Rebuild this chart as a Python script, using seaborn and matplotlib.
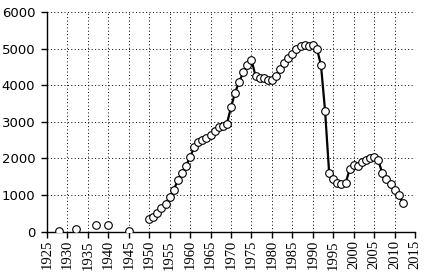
import matplotlib
matplotlib.use("Agg")
import matplotlib.pyplot as plt
import seaborn as sns
import pandas as pd

# Early isolated observations
early_years = [1928, 1932, 1937, 1940, 1945]
early_values = [30, 70, 180, 170, 20]

# Continuous yearly series
years = list(range(1950, 2013))
values = [340, 400, 500, 650, 750, 950, 1150, 1400, 1600, 1800,
          2050, 2300, 2450, 2500, 2550, 2650, 2750, 2850, 2900, 2950,
          3400, 3800, 4100, 4350, 4550, 4700, 4250, 4200, 4200, 4150,
          4150, 4250, 4450, 4600, 4750, 4850, 5000, 5080, 5100, 5080,
          5100, 5000, 4550, 3300, 1600, 1450, 1320, 1300, 1320, 1700,
          1820, 1800, 1900, 1950, 2000, 2050, 1950, 1600, 1450, 1300,
          1150, 1000, 780]

x_ticks = list(range(1925, 2016, 5))
y_ticks = list(range(0, 6001, 1000))

sns.set_theme(style="white")
plt.rcParams['font.family'] = ['DejaVu Sans']

fig = plt.figure(figsize=(4.27, 2.80), dpi=100)
ax = fig.add_axes([0.110, 0.1725, 0.862, 0.7845])

df_main = pd.DataFrame({"year": years, "value": values})
df_early = pd.DataFrame({"year": early_years, "value": early_values})

sns.lineplot(data=df_main, x="year", y="value", ax=ax, color="black",
             linewidth=1.6, marker="o", markersize=5.5,
             markerfacecolor="white", markeredgecolor="black",
             markeredgewidth=0.8, zorder=3)
sns.scatterplot(data=df_early, x="year", y="value", ax=ax, s=30,
                facecolor="white", edgecolor="black", linewidth=0.8,
                zorder=3)

ax.set_xlim(1925, 2015)
ax.set_ylim(0, 6000)
ax.set_xticks(x_ticks)
ax.set_yticks(y_ticks)
ax.set_xticklabels([str(t) for t in x_ticks], rotation=90,
                   family="Liberation Serif", fontsize=10.5)
ax.set_yticklabels([str(t) for t in y_ticks], fontsize=9.5)
ax.set_xlabel("")
ax.set_ylabel("")

ax.grid(True, color="black", linestyle=(0, (1, 2.5)), linewidth=0.7)
ax.set_axisbelow(True)
for s in ["top", "right"]:
    ax.spines[s].set_visible(False)
for s in ["left", "bottom"]:
    ax.spines[s].set_color("black")
    ax.spines[s].set_linewidth(1.0)
ax.tick_params(axis="both", direction="out", length=4, width=1,
               color="black", labelcolor="black")
ax.tick_params(axis="x", bottom=True, pad=2)
ax.tick_params(axis="y", left=True, pad=4.5)

fig.savefig("out.png", dpi=100)
